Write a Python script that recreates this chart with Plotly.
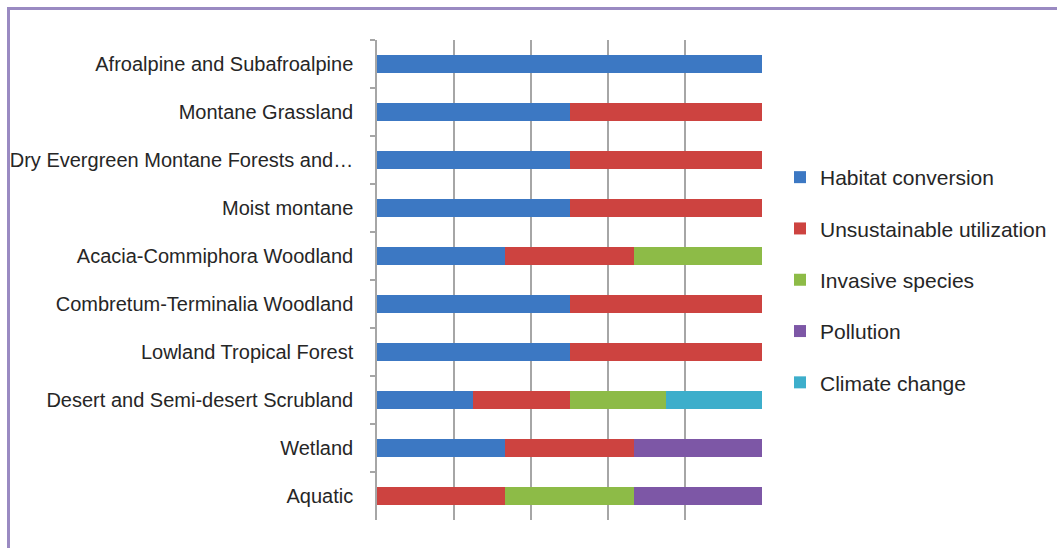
import plotly.graph_objects as go

categories = [
    "Afroalpine and Subafroalpine",
    "Montane Grassland",
    "Dry Evergreen Montane Forests and…",
    "Moist montane",
    "Acacia-Commiphora Woodland",
    "Combretum-Terminalia Woodland",
    "Lowland Tropical Forest",
    "Desert and Semi-desert Scrubland",
    "Wetland",
    "Aquatic",
]

habitat_conversion = [100, 50, 50, 50, 33.33, 50, 50, 25, 33.33, 0]
unsustainable_utilization = [0, 50, 50, 50, 33.33, 50, 50, 25, 33.33, 33.33]
invasive_species = [0, 0, 0, 0, 33.34, 0, 0, 25, 0, 33.33]
pollution = [0, 0, 0, 0, 0, 0, 0, 0, 33.34, 33.34]
climate_change = [0, 0, 0, 0, 0, 0, 0, 25, 0, 0]

series_names = ["Habitat conversion", "Unsustainable utilization",
                "Invasive species", "Pollution", "Climate change"]
series_values = [habitat_conversion, unsustainable_utilization,
                 invasive_species, pollution, climate_change]
colors = ["#3C78C3", "#CD4340", "#8DBB47", "#7D57A6", "#3DAECB"]

x_ticks = [0, 20, 40, 60, 80, 100]

fig = go.Figure()
for name, vals, col in zip(series_names, series_values, colors):
    fig.add_trace(go.Bar(
        y=categories, x=vals, name=name, orientation="h",
        marker=dict(color=col, line=dict(width=0)),
        legendgroup=name,
    ))

W, H = 1057, 548
L, R, T, B = 377, 295, 40, 28
pw, ph = W - L - R, H - T - B

def px_x(p):
    return (p - L) / pw

def px_y(p):
    return (H - B - p) / ph

fig.update_layout(
    width=W, height=H,
    margin=dict(l=L, r=R, t=T, b=B, autoexpand=False),
    barmode="stack",
    bargap=0.62,
    paper_bgcolor="white",
    plot_bgcolor="white",
    font=dict(family="Liberation Sans Narrow, Arial Narrow, sans-serif", size=20, color="#262626"),
    xaxis=dict(
        range=[0, 100], tickvals=x_ticks, showticklabels=False,
        showgrid=True, gridcolor="#a6a6a6", gridwidth=1.5,
        zeroline=False, showline=False, fixedrange=True, automargin=False,
    ),
    yaxis=dict(
        autorange="reversed", showline=True, linecolor="#a6a6a6", linewidth=1.5,
        ticks="outside", ticklen=5, tickcolor="#a6a6a6", tickwidth=1.5,
        tickson="boundaries", ticklabelstandoff=18,
        showgrid=False, fixedrange=True, automargin=False,
    ),
    legend=dict(
        x=px_x(780), y=px_y(157), xanchor="left", yanchor="top",
        traceorder="grouped", tracegroupgap=21,
        font=dict(size=21, color="#262626"),
        itemwidth=30, bgcolor="rgba(0,0,0,0)",
    ),
    showlegend=True,
    shapes=[
        dict(type="rect", xref="paper", yref="paper",
             x0=px_x(8.5), x1=px_x(1080), y0=px_y(570), y1=px_y(8.5),
             line=dict(color="#9A8AC2", width=3), fillcolor="rgba(0,0,0,0)",
             layer="above"),
    ],
)

fig.write_html("out.html")
